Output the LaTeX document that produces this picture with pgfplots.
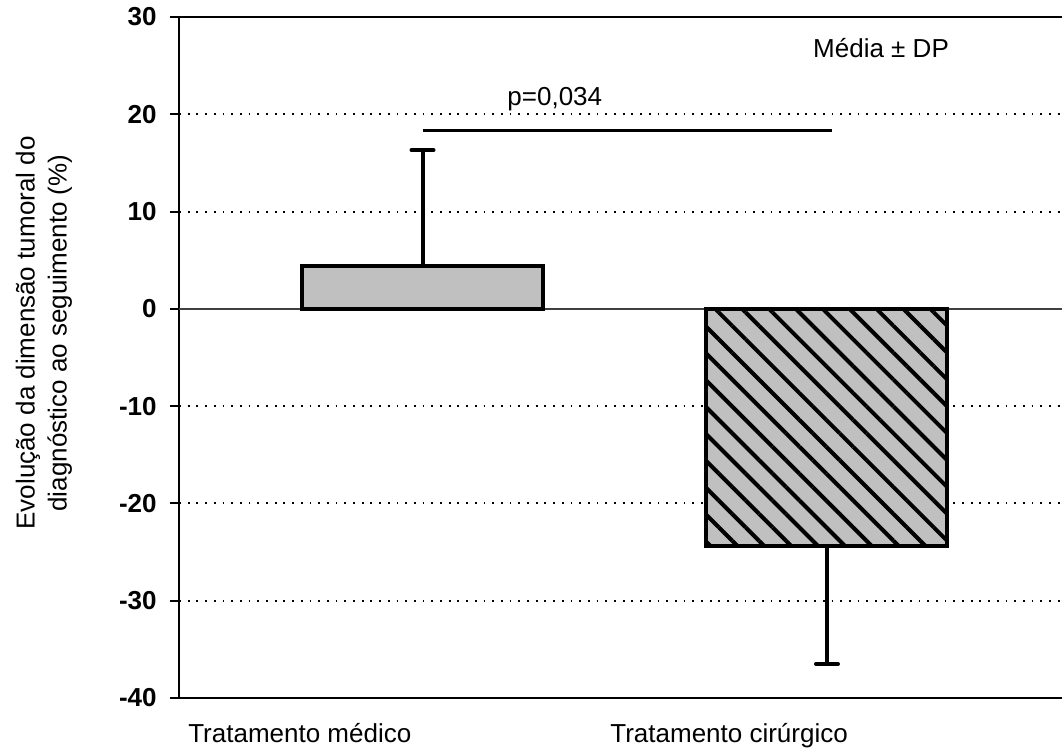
\documentclass[border=0pt]{standalone}
\usepackage{fontspec}
\setmainfont{Liberation Sans}
\usepackage{pgfplots}
\pgfplotsset{compat=1.18}
\usetikzlibrary{patterns.meta}
\definecolor{barfill}{HTML}{C0C0C0}

\begin{document}
\begin{tikzpicture}
\useasboundingbox (0,0) rectangle (531pt,374.5pt);
\begin{axis}[
  at={(89.5pt,25.5pt)}, anchor=south west,
  scale only axis, width=441.5pt, height=340.5pt,
  xmin=-0.602, xmax=1.581, ymin=-40, ymax=30,
  axis x line*=box, axis y line*=left,
  axis line style={line width=1pt, black},
  ytick={-40,-30,-20,-10,0,10,20,30},
  yticklabels={-40,-30,-20,-10,0,10,20,30},
  tick align=outside, major tick length=4.5pt,
  ytick style={line width=1pt, black},
  yticklabel style={anchor=east, inner sep=0pt, xshift=-6.5pt,
    font=\fontsize{13}{15}\selectfont\bfseries},
  xtick={-0.580,0.4635},
  xticklabels={Tratamento médico, Tratamento cirúrgico},
  xtick style={draw=none},
  xticklabel style={anchor=base west, inner sep=0pt, yshift=-18pt,
    font=\fontsize{13}{15}\selectfont},
  ymajorgrids,
  grid style={black, line width=1pt, dash pattern=on 0.9pt off 3.45pt},
  clip=false,
]
% zero reference line
\draw[black!75, line width=0.8pt] (axis cs:-0.602,0) -- (axis cs:1.581,0);

% medical treatment: mean with upper SD
\addplot[ybar, bar width=120.5pt, bar shift=0pt, fill=barfill, draw=black,
  line width=2pt,
  error bars/.cd, y dir=plus, y explicit,
  error bar style={line width=2pt, black, line cap=round},
  error mark options={rotate=90, line width=2pt, mark size=5.5pt, black, line cap=round}]
  coordinates {(0,4.4) +- (0,11.9)};

% surgical treatment: mean with lower SD, hatched
\addplot[ybar, bar width=120.5pt, bar shift=0pt, fill=barfill, draw=black,
  line width=2pt,
  postaction={pattern={Lines[angle=-45, distance=9.5pt, line width=2pt]},
    pattern color=black},
  error bars/.cd, y dir=minus, y explicit,
  error bar style={line width=2pt, black, line cap=round},
  error mark options={rotate=90, line width=2pt, mark size=5.5pt, black, line cap=round}]
  coordinates {(1,-24.4) +- (0,12.1)};

% significance bracket
\draw[black, line width=1.35pt] (axis cs:0,18.3) -- (axis cs:1.012,18.3);
\node[anchor=base west, inner sep=0pt, font=\fontsize{13}{15}\selectfont]
  at (axis cs:0.209,20.86) {p=0,034};
\node[anchor=base west, inner sep=0pt, font=\fontsize{13}{15}\selectfont]
  at (axis cs:0.965,25.8) {Média ± DP};
\end{axis}
\node[rotate=90, align=center, font=\fontsize{13}{16}\selectfont]
  at (22pt,208pt) {Evolução da dimensão tumoral do\\diagnóstico ao seguimento (\%)};
\end{tikzpicture}
\end{document}
